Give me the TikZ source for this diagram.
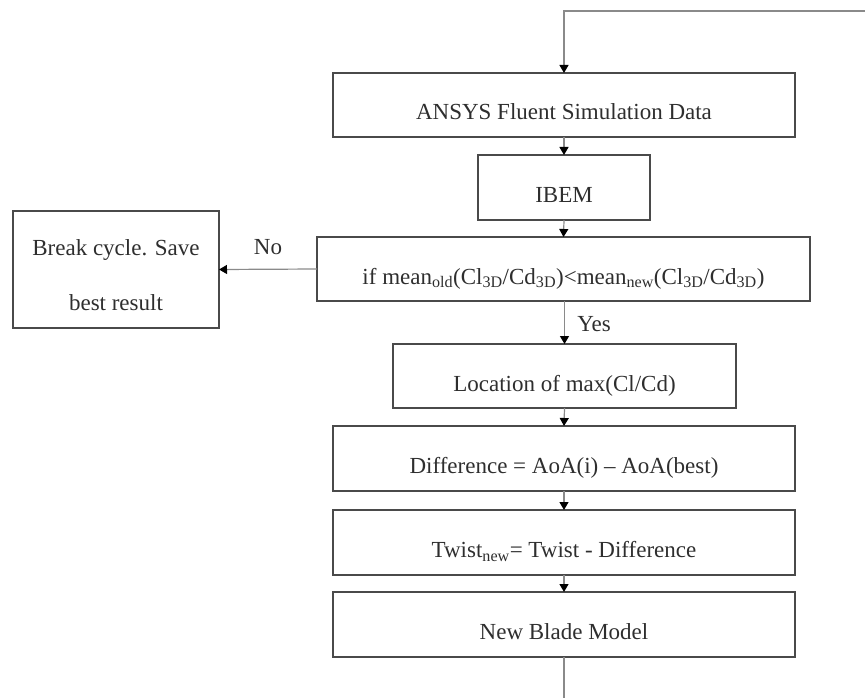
\documentclass[tikz,border=0pt]{standalone}
\usepackage{fontspec}
\setmainfont{Liberation Serif}
\usetikzlibrary{arrows.meta}

% text baseline sits a little below the box centre
\newcommand{\lowered}[1]{\raisebox{-15pt}[0pt][0pt]{#1}}

\definecolor{boxline}{HTML}{4A4A4A}
\definecolor{connline}{HTML}{8A8A8A}
\definecolor{txt}{HTML}{2E2E2E}

\tikzset{
  flowbox/.style={draw=boxline, line width=1.6pt, inner sep=0pt, outer sep=0pt,
    minimum height=64pt, text=txt, font=\fontsize{23}{27}\selectfont},
  conn/.style={draw=connline, line width=1.2pt,
    -{Triangle[length=8pt,width=9pt,color=black]}},
  plainconn/.style={draw=connline, line width=1.2pt},
  tag/.style={text=txt, font=\fontsize{23}{27}\selectfont, inner sep=0pt}
}

\begin{document}
\begin{tikzpicture}[x=1pt,y=-1pt]
  \useasboundingbox (0,0) rectangle (865,698);

  \node[flowbox, minimum width=462pt] (ansys) at (564,105)
    {\lowered{ANSYS Fluent Simulation Data}};
  \node[flowbox, minimum width=172pt, minimum height=65pt] (ibem) at (564,187.5)
    {\lowered{IBEM}};
  \node[flowbox, minimum width=493pt] (decide) at (563.5,269)
    {\lowered{if mean\textsubscript{old}(Cl\textsubscript{3D}/Cd\textsubscript{3D})<mean\textsubscript{new}(Cl\textsubscript{3D}/Cd\textsubscript{3D})}};
  \node[flowbox, minimum width=206pt, minimum height=117pt] (brk) at (116,269.5) {};
  \node[tag, align=center, font=\fontsize{23}{55}\selectfont] (brktxt) at (116,275)
    {Break cycle. Save\\best result};
  \node[flowbox, minimum width=343pt] (loc) at (564.5,376)
    {\lowered{Location of max(Cl/Cd)}};
  \node[flowbox, minimum width=462pt, minimum height=65pt] (diff) at (564,458.5)
    {\lowered{Difference = AoA(i) – AoA(best)}};
  \node[flowbox, minimum width=462pt, minimum height=65pt] (twist) at (564,542.5)
    {\lowered{Twist\textsubscript{new}= Twist - Difference}};
  \node[flowbox, minimum width=462pt, minimum height=65pt] (blade) at (564,624.5)
    {\lowered{New Blade Model}};

  % loop back from the new blade model into the simulation
  \coordinate (loopin) at (865,11);
  \coordinate (loopturn) at (564,11);
  \coordinate (loopout) at (564,698);
  \draw[conn] (loopin) -- (loopturn) -- (ansys.north);
  \draw[plainconn] (blade.south) -- (loopout);

  \draw[conn] (ansys.south) -- (ibem.north);
  \draw[conn] (ibem.south) -- (decide.north);
  \draw[conn] (decide.west) -- (brk.east);
  \draw[conn] (decide.south -| loc.north) -- (loc.north);
  \draw[conn] (loc.south) -- (diff.north);
  \draw[conn] (diff.south) -- (twist.north);
  \draw[conn] (twist.south) -- (blade.north);

  \node[tag] (nolbl) at (268,247) {No};
  \node[tag] (yeslbl) at (594,324) {Yes};
\end{tikzpicture}
\end{document}
